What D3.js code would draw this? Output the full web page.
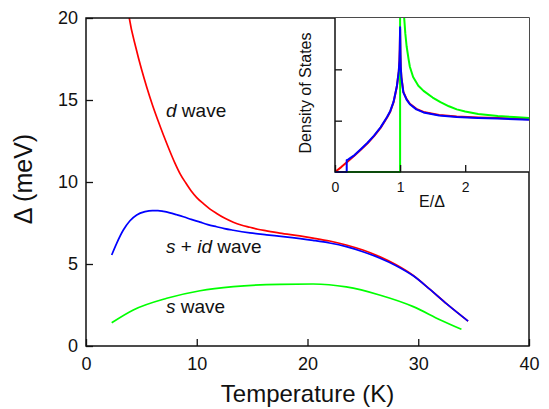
<!DOCTYPE html>
<html>
<head>
<meta charset="utf-8">
<script src="https://cdn.jsdelivr.net/npm/d3@7"></script>
<style>
  html, body { margin: 0; padding: 0; background: #fff; }
  svg { display: block; font-family: "Liberation Sans", Arial, sans-serif; }
</style>
</head>
<body>
<svg id="chart" width="549" height="409"></svg>
<script>
// ---------- data ----------
// main panel: temperature (K) vs gap (meV)
const dWaveT     = [3.7, 3.91, 4.5, 5.0, 5.5, 6.0, 6.5, 7.0, 7.5, 8.0, 8.5, 9.0, 9.5, 10.0, 10.6, 11.2, 11.8, 12.5, 13.3, 14.0, 14.8, 15.5, 16.3, 17.5, 19.3, 20.5, 22, 23.5, 25, 26.5, 28, 29.55, 31.06, 32.57, 34.5];
const dWaveGap   = [21, 20, 18.2, 16.9, 15.75, 14.7, 13.75, 12.85, 12.0, 11.2, 10.5, 9.95, 9.45, 9.05, 8.68, 8.35, 8.08, 7.8, 7.55, 7.38, 7.24, 7.12, 7.02, 6.88, 6.71, 6.58, 6.4, 6.16, 5.85, 5.45, 4.95, 4.3, 3.45, 2.57, 1.52];
const sidWaveT   = [2.32, 2.77, 3.37, 3.97, 4.58, 5.33, 6.0, 6.5, 7.0, 7.58, 8.2, 8.79, 9.5, 10.3, 11.0, 11.8, 12.5, 13.3, 14.8, 16.3, 17.8, 20.5, 22, 23.5, 25, 26.5, 28, 29.55, 31.06, 32.57, 34.5];
const sidWaveGap = [5.55, 6.26, 7.07, 7.64, 7.99, 8.19, 8.26, 8.26, 8.21, 8.12, 8.0, 7.88, 7.72, 7.55, 7.4, 7.27, 7.16, 7.06, 6.9, 6.78, 6.67, 6.44, 6.28, 6.06, 5.75, 5.37, 4.9, 4.28, 3.45, 2.57, 1.52];
const sWaveT     = [2.32, 4.27, 7.29, 10.3, 13.3, 17.5, 20.5, 23.5, 26.5, 29.55, 32, 33.9];
const sWaveGap   = [1.42, 2.2, 2.91, 3.37, 3.62, 3.76, 3.78, 3.6, 3.11, 2.4, 1.59, 1.02];

const xTicks = [0, 10, 20, 30, 40];
const yTicks = [0, 5, 10, 15, 20];

// inset: density of states vs E/Δ
const dosDE   = [0, 0.1, 0.2, 0.3, 0.4, 0.5, 0.6, 0.7, 0.8, 0.85, 0.9, 0.95, 0.98, 0.99, 0.995, 1.0, 1.005, 1.01, 1.02, 1.05, 1.1, 1.15, 1.25, 1.36, 1.6, 1.87, 2.2, 2.5, 2.98];
const dosD    = [0, 0.1, 0.21, 0.32, 0.44, 0.56, 0.7, 0.86, 1.06, 1.18, 1.36, 1.66, 1.96, 2.16, 2.38, 2.78, 2.3, 2.05, 1.85, 1.56, 1.42, 1.33, 1.23, 1.17, 1.11, 1.08, 1.06, 1.05, 1.03];
const dosSidE = [0, 0.18, 0.18, 0.2, 0.3, 0.4, 0.5, 0.6, 0.7, 0.8, 0.85, 0.9, 0.95, 0.98, 0.99, 0.995, 1.0, 1.005, 1.01, 1.02, 1.05, 1.1, 1.15, 1.25, 1.36, 1.6, 1.87, 2.2, 2.5, 2.98];
const dosSid  = [0, 0, 0.23, 0.24, 0.33, 0.45, 0.57, 0.71, 0.87, 1.07, 1.19, 1.37, 1.67, 1.97, 2.17, 2.4, 2.82, 2.3, 2.04, 1.84, 1.55, 1.41, 1.32, 1.22, 1.16, 1.1, 1.07, 1.05, 1.04, 1.02];
const dosSE   = [0, 1, 1, 1.06, 1.08, 1.1, 1.13, 1.15, 1.2, 1.28, 1.36, 1.5, 1.62, 1.75, 1.87, 2.0, 2.2, 2.5, 2.75, 2.98];
const dosS    = [0, 0, 4, 3.05, 2.7, 2.45, 2.2, 2.05, 1.85, 1.68, 1.58, 1.45, 1.36, 1.28, 1.22, 1.18, 1.13, 1.09, 1.07, 1.05];

const insetXTicks = [0, 1, 2];
const insetYTicks = [1, 2];

const colors = { d: "#ff0000", sid: "#0000ff", s: "#00ff00" };

// ---------- drawing ----------
const svg = d3.select("#chart");
const x = d3.scaleLinear().domain([0, 40]).range([86, 529]);
const y = d3.scaleLinear().domain([0, 20]).range([346, 18]);

const zip = (a, b) => a.map((v, i) => [v, b[i]]);

svg.append("defs").append("clipPath").attr("id", "mainClip")
  .append("rect").attr("x", 86).attr("y", 18).attr("width", 443).attr("height", 328);

const lineMain = d3.line().x(d => x(d[0])).y(d => y(d[1])).curve(d3.curveMonotoneX);
const gMain = svg.append("g").attr("clip-path", "url(#mainClip)");
[[sWaveT, sWaveGap, colors.s], [dWaveT, dWaveGap, colors.d], [sidWaveT, sidWaveGap, colors.sid]]
  .forEach(([t, g, c]) => {
    gMain.append("path").datum(zip(t, g)).attr("d", lineMain)
      .attr("fill", "none").attr("stroke", c).attr("stroke-width", 1.7)
      .attr("stroke-linejoin", "round");
  });

// axes
const xAxis = svg.append("g").attr("transform", "translate(0,346)")
  .call(d3.axisBottom(x).tickValues(xTicks).tickSizeInner(-7).tickSizeOuter(0).tickPadding(11));
const yAxis = svg.append("g").attr("transform", "translate(86,0)")
  .call(d3.axisLeft(y).tickValues(yTicks).tickSizeInner(-7).tickSizeOuter(0).tickPadding(8));
[xAxis, yAxis].forEach(a => {
  a.select(".domain").remove();
  a.selectAll("line").attr("stroke", "#111").attr("stroke-width", 1.3);
  a.selectAll("text").attr("font-size", 18).attr("fill", "#111")
    .attr("font-family", "'Liberation Sans', Arial, sans-serif");
});

// frame
svg.append("rect").attr("x", 86).attr("y", 18).attr("width", 443).attr("height", 328)
  .attr("fill", "none").attr("stroke", "#111").attr("stroke-width", 1.5);

// titles
svg.append("text").attr("x", 307.5).attr("y", 401.5).attr("text-anchor", "middle")
  .attr("font-size", 24).attr("fill", "#111").text("Temperature (K)");
svg.append("text").attr("transform", "translate(32,179) rotate(-90)").attr("text-anchor", "middle")
  .attr("font-size", 25).attr("fill", "#111").text("Δ (meV)");

// curve labels
function label(xp, yp, parts) {
  const t = svg.append("text").attr("x", xp).attr("y", yp).attr("font-size", 19).attr("fill", "#111");
  parts.forEach(([s, it]) => t.append("tspan").attr("font-style", it ? "italic" : "normal").text(s));
}
label(166, 116.7, [["d", true], [" wave", false]]);
label(166, 252.7, [["s", true], [" + ", false], ["id", true], [" wave", false]]);
label(166, 313.3, [["s", true], [" wave", false]]);

// ---------- inset ----------
const ix = d3.scaleLinear().domain([0, 2.98]).range([335, 529]);
const iy = d3.scaleLinear().domain([0, 3]).range([172, 18]);

svg.append("rect").attr("x", 335).attr("y", 18).attr("width", 194).attr("height", 154).attr("fill", "#fff");
svg.select("defs").append("clipPath").attr("id", "insetClip")
  .append("rect").attr("x", 335).attr("y", 18).attr("width", 194).attr("height", 155);

const lineInset = d3.line().x(d => ix(d[0])).y(d => iy(d[1]));
const gInset = svg.append("g").attr("clip-path", "url(#insetClip)");
[[dosDE, dosD, colors.d], [dosSE, dosS, colors.s], [dosSidE, dosSid, colors.sid]]
  .forEach(([e, v, c]) => {
    gInset.append("path").datum(zip(e, v)).attr("d", lineInset)
      .attr("fill", "none").attr("stroke", c).attr("stroke-width", 2)
      .attr("stroke-linejoin", "round");
  });

const ixAxis = svg.append("g").attr("transform", "translate(0,172)")
  .call(d3.axisBottom(ix).tickValues(insetXTicks).tickFormat(d3.format("d")).tickSizeInner(-7).tickSizeOuter(0).tickPadding(10));
const iyAxis = svg.append("g").attr("transform", "translate(335,0)")
  .call(d3.axisLeft(iy).tickValues(insetYTicks).tickFormat("").tickSizeInner(-7).tickSizeOuter(0));
[ixAxis, iyAxis].forEach(a => {
  a.select(".domain").remove();
  a.selectAll("line").attr("stroke", "#111").attr("stroke-width", 1.3);
  a.selectAll("text").attr("font-size", 14).attr("fill", "#111")
    .attr("font-family", "'Liberation Sans', Arial, sans-serif");
});
// inset frame (left and bottom; top/right shared with main frame)
svg.append("path").attr("d", `M335,18V172H529`).attr("fill", "none")
  .attr("stroke", "#111").attr("stroke-width", 1.5);

svg.append("text").attr("x", 432).attr("y", 206.5).attr("text-anchor", "middle")
  .attr("font-size", 16).attr("fill", "#111").text("E/Δ");
svg.append("text").attr("transform", "translate(311,93) rotate(-90)").attr("text-anchor", "middle")
  .attr("font-size", 16).attr("fill", "#111").text("Density of States");
</script>
</body>
</html>
